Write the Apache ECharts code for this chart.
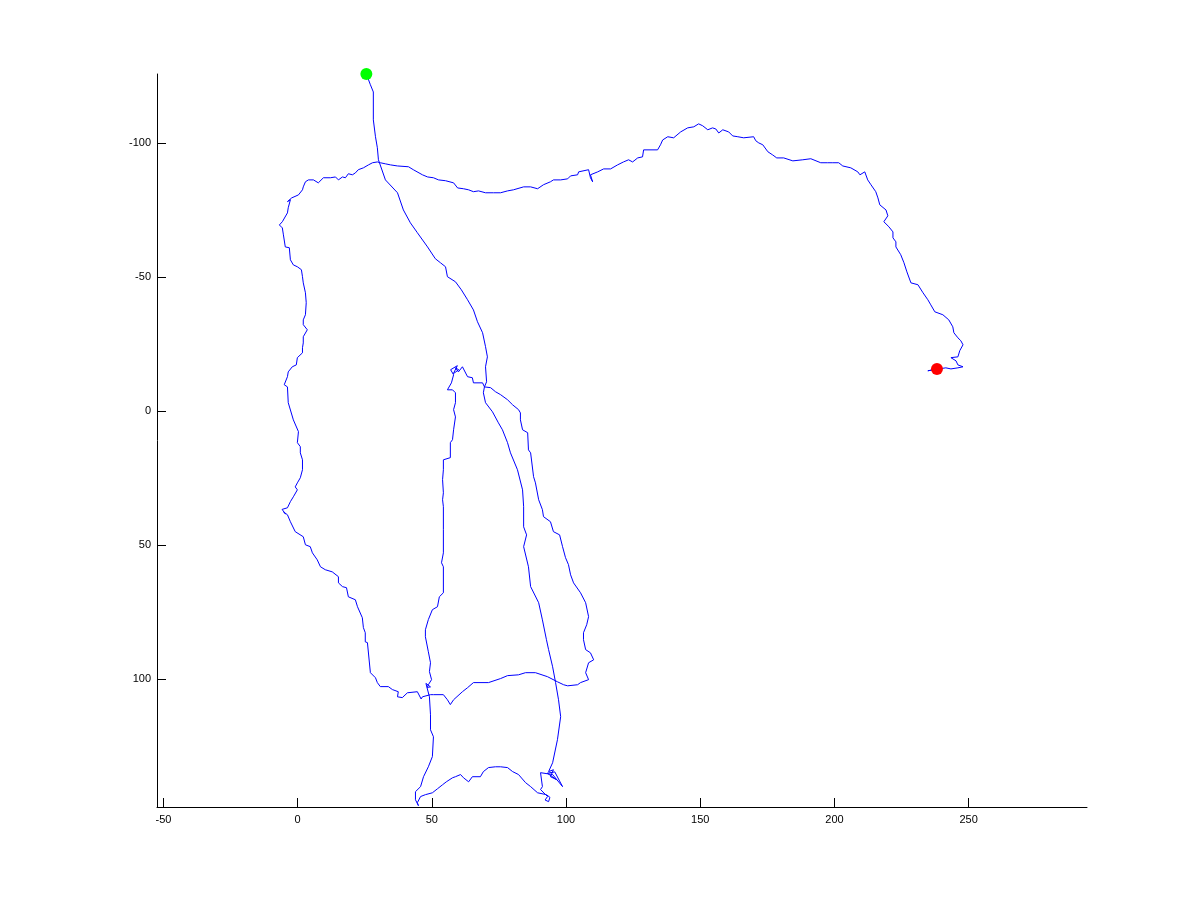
<!DOCTYPE html>
<html><head><meta charset="utf-8">
<script src="https://cdn.jsdelivr.net/npm/echarts@6/dist/echarts.min.js"></script>
<style>html,body{margin:0;padding:0;background:#fff}#c{width:1200px;height:914px}</style>
</head><body><div id="c"></div>
<script>
const xTicks = [-50, 0, 50, 100, 150, 200, 250];
const yTicks = [-100, -50, 0, 50, 100];

const startPoint = [25.6, -125.8];
const endPoint = [238.2, -15.8];

const descent = [
  [25.6,-125.8],[27.1,-121.8],[28.2,-119.1],[28.2,-108.7],[29.0,-102.4],[29.7,-98.3],[30.1,-93.8],
  [32.7,-86.3],[37.2,-81.5],[39.4,-75.1],[42.0,-70.3],[44.6,-66.6],[48.4,-61.3],[51.3,-56.9],
  [53.2,-55.4],[55.1,-53.9],[55.8,-50.2],[58.8,-48.3],[61.0,-45.3],[63.3,-41.6],[65.5,-37.8],
  [67.0,-33.4],[68.9,-29.3],[70.0,-24.1],[70.7,-20.3],[70.0,-16.6],[70.4,-11.0],[69.6,-9.1],
  [69.2,-6.9],[70.0,-3.2],[72.6,0.2],[74.8,4.3],[76.3,6.9],[78.2,11.7],[79.3,15.5],[81.9,21.8],
  [83.8,29.3],[84.2,35.6],[84.2,43.1],[85.3,46.1],[84.2,50.5],[86.0,58.0],[86.8,65.4],[89.8,71.4],
  [91.2,77.8],[92.7,85.2],[93.5,88.9],[95.0,95.3],[96.1,101.2],[97.2,107.6],[98.0,113.9],
  [96.8,122.5],[95.0,131.1],[93.5,134.4]
];

const lowerLoop = [
  [95.3,133.7],[94.2,136.3],[96.5,137.4],[93.0,135.0],[95.8,134.5],[98.7,140.0],[95.0,135.5],
  [90.5,134.8],[91.2,140.0],[90.5,141.1],[93.1,143.7],[92.2,145.0],[93.5,145.6],[94.0,144.0],
  [92.7,143.0],[89.4,142.3],[86.8,140.0],[84.9,138.5],[82.3,135.5],[80.1,134.4],[78.2,132.9],
  [75.6,132.6],[73.7,132.6],[71.1,132.9],[69.2,134.4],[68.1,136.3],[65.1,136.3],[63.7,138.2],
  [61.8,136.7],[60.7,135.5],[58.8,136.3],[57.7,136.7],[55.4,138.2],[54.0,139.3],[52.1,140.8],
  [50.2,142.3],[47.6,143.0],[45.8,143.7],[44.6,146.0],[45.0,147.1],[43.9,144.9],[43.9,141.9],
  [45.8,140.0],[46.9,136.3],[48.7,132.6],[50.2,128.8],[50.6,121.4],[49.5,118.8],[49.5,113.2],
  [49.1,106.5],[47.8,101.5],[49.5,102.8],[48.3,103.0],[48.7,102.0],[49.9,100.1],[49.1,97.1],
  [49.5,93.8],[48.7,89.7],[47.6,84.1],[47.6,81.5]
];

const innerRise = [
  [48.7,77.7],[50.2,74.0],[52.1,72.9],[52.8,69.2],[54.3,67.7],[54.3,58.0],[53.6,56.5],[54.3,52.8],
  [54.3,44.2],[54.3,35.6],[54.0,33.0],[54.3,30.4],[54.0,25.5],[54.3,21.8],[54.3,18.1],[56.9,17.3],
  [56.9,11.7],[57.7,10.6],[58.1,6.9],[58.8,2.1],[58.1,-0.6],[58.8,-3.2],[58.8,-6.9],[57.7,-8.0],
  [55.8,-8.0],[57.3,-10.6],[58.1,-13.6],[57.0,-15.5],[59.5,-17.0],[58.0,-14.0],[60.0,-15.5],
  [58.8,-16.2],[59.9,-14.7],[61.4,-16.6],[63.3,-12.9],[65.1,-12.5],[65.5,-10.6],[68.9,-10.6],
  [69.6,-9.1],[71.9,-8.8],[73.7,-7.3],[75.6,-6.2],[78.2,-4.3],[80.1,-2.4],[82.3,-0.6],[83.0,0.6]
];

const rightLoop = [
  [83.0,3.2],[83.8,6.9],[85.7,8.0],[86.0,14.4],[86.8,15.5],[87.9,24.4],[88.6,26.7],[89.8,33.0],
  [91.2,36.7],[91.6,39.3],[94.2,41.2],[95.3,44.9],[97.6,46.1],[98.7,50.5],[99.8,54.6],[100.9,57.2],
  [101.7,61.0],[102.8,64.0],[105.4,67.7],[107.3,71.4],[108.4,76.6],[107.7,79.6],[106.5,82.6],
  [106.5,85.2],[107.3,88.9],[109.1,90.1],[110.3,92.7],[108.4,93.8],[107.3,97.5],[108.4,100.1]
];

const bottomCross = [
  [105.4,101.2],[104.3,102.0],[100.6,102.4],[99.1,102.0],[96.8,100.9],[93.1,99.0],[88.6,97.5],
  [84.9,97.5],[82.3,98.3],[78.2,98.6],[75.6,99.7],[71.1,101.2],[65.5,101.2],[63.3,103.1],
  [61.4,104.6],[58.1,107.6],[56.9,109.4],[55.8,107.6],[54.3,105.7],[50.6,105.7],[49.5,105.7],
  [46.5,106.5],[45.8,106.0],[47.0,107.0],[46.0,107.3],[44.6,104.6],[40.9,105.0],[39.0,106.8],
  [37.2,106.5],[37.5,104.6],[35.3,103.8],[33.8,102.7],[30.8,102.7],[29.7,101.2],[29.0,99.4],
  [27.1,97.5],[26.4,97.1]
];

const leftSide = [
  [26.0,86.3],[25.2,86.0],[25.2,82.6],[24.5,80.7],[24.1,77.0],[22.3,72.9],[21.5,70.3],[18.9,69.2],
  [18.2,65.8],[16.7,65.4],[15.2,64.0],[15.2,61.7],[12.9,59.9],[10.3,59.1],[8.5,58.0],[7.3,55.4],
  [5.5,52.8],[4.7,50.5],[2.9,49.8],[2.1,46.8],[-0.9,44.9],[-2.7,41.2],[-3.8,38.6],[-5.3,37.5],
  [-6.0,37.2],[-4.5,38.3],[-5.8,36.6],[-3.8,36.0],[-2.7,33.7],[-1.6,31.9],[-0.1,29.3],[-0.9,28.2],
  [-0.1,26.7],[1.0,24.8],[1.8,21.8],[1.8,18.1],[1.0,15.5],[1.0,13.2],[-0.1,11.7],[0.3,7.6],
  [-1.6,3.2],[-3.5,-3.2],[-3.8,-9.1],[-5.0,-9.9],[-3.8,-12.9],[-3.5,-14.7],[-2.0,-16.6],
  [-0.5,-17.3],[-0.1,-20.0],[1.8,-21.8],[1.8,-23.7],[2.1,-25.5],[2.1,-27.8],[3.6,-30.4],
  [2.1,-32.3],[2.1,-34.1],[2.9,-36.0],[3.2,-40.5],[2.9,-44.2],[2.1,-47.9],[1.8,-50.2],[1.4,-52.8],
  [-0.1,-53.9],[-1.6,-54.6],[-2.7,-56.5],[-3.1,-61.0],[-4.6,-61.3],[-5.3,-65.8],[-5.7,-68.4],
  [-6.8,-69.5],[-5.7,-70.7],[-3.8,-74.0],[-3.5,-75.9],[-2.7,-78.9],[-3.8,-78.2],[-2.2,-79.6],
  [-1.6,-80.0],[0.3,-80.7],[1.8,-82.6],[2.1,-83.7],[2.9,-85.6],[4.0,-86.3]
];

const topEdge = [
  [5.9,-86.3],[7.7,-85.2],[9.6,-87.1],[12.2,-87.1],[14.1,-87.4],[15.2,-86.3],[16.7,-87.4],
  [17.8,-87.1],[18.9,-88.6],[20.4,-88.2],[21.5,-88.9],[22.6,-90.1],[24.5,-90.8],[26.4,-91.9],
  [27.9,-92.7],[29.7,-93.0],[30.8,-92.7],[32.7,-92.3],[34.6,-91.9],[37.2,-91.5],[41.3,-91.2],
  [43.1,-90.1],[46.5,-88.2],[48.4,-87.4],[50.6,-87.1],[52.5,-86.3],[55.1,-86.0],[58.1,-85.2],
  [59.6,-83.3],[61.8,-83.0],[63.7,-82.6],[65.5,-81.9],[67.4,-82.2],[70.0,-81.5],[73.0,-81.5],
  [75.6,-81.5],[78.2,-82.2],[80.4,-82.6],[84.2,-83.7],[86.8,-83.7],[89.4,-83.0],[91.6,-84.5],
  [94.2,-85.6],[95.3,-86.3],[98.0,-86.3],[100.6,-86.7],[101.7,-87.8],[104.3,-88.2],[104.7,-89.3],
  [108.4,-90.1],[109.1,-87.1],[109.9,-85.6],[109.1,-88.2],[111.8,-89.3],[114.0,-90.4],[116.6,-90.4],
  [119.2,-91.9],[121.4,-93.0],[123.3,-93.8],[124.8,-93.0],[126.7,-94.5],[128.5,-94.9],[128.9,-97.5],
  [134.1,-97.5],[135.2,-99.4],[136.0,-101.2],[137.9,-102.4],[140.1,-102.0],[142.7,-104.2],
  [145.3,-105.7],[147.6,-106.1],[149.4,-107.2],[150.9,-106.5],[152.8,-105.0],[154.6,-105.7],
  [155.8,-105.3],[156.9,-103.8],[158.4,-105.0],[160.6,-104.2],[162.1,-102.7],[164.0,-102.4],
  [166.2,-102.0],[169.9,-102.4]
];

const eastEdge = [
  [170.7,-100.9],[171.8,-100.1],[173.3,-99.4],[175.2,-96.8],[177.0,-95.6],[178.5,-94.5],
  [181.1,-94.5],[184.5,-93.4],[188.2,-93.8],[191.2,-94.2],[194.9,-92.7],[197.5,-92.7],[199.4,-92.7],
  [201.6,-92.7],[203.1,-91.5],[206.1,-90.8],[208.7,-89.3],[209.5,-88.2],[211.3,-89.3],[212.4,-86.3],
  [213.6,-84.5],[215.4,-81.9],[216.2,-79.6],[216.9,-77.0],[219.2,-75.1],[219.9,-72.9],[218.4,-70.7],
  [220.3,-68.8],[221.8,-66.9],[221.8,-64.7],[222.9,-63.2],[222.9,-61.3],[224.7,-58.4],[225.9,-55.4],
  [227.0,-52.0],[228.5,-47.9],[231.1,-47.2],[233.0,-44.2],[234.8,-41.6],[235.9,-39.7],[237.4,-37.1],
  [240.4,-36.0],[242.6,-34.1],[244.1,-31.5],[244.5,-29.3],[246.0,-27.4],[247.1,-26.3],[247.9,-24.8],
  [246.7,-22.6],[246.0,-20.3],[243.4,-20.0],[245.3,-18.8],[246.0,-17.3],[247.9,-16.6],[246.0,-16.2],
  [243.4,-15.8],[241.5,-16.2],[238.9,-15.8],[234.8,-15.1],[238.2,-15.8]
];

const path = [].concat(descent, lowerLoop, innerRise, rightLoop, bottomCross, leftSide, topEdge, eastEdge);

const font = 'Liberation Sans, Arial, Helvetica, sans-serif';
const chart = echarts.init(document.getElementById('c'), null, {renderer: 'canvas'});
chart.setOption({
  animation: false,
  backgroundColor: '#ffffff',
  grid: {left: 157, right: 113, top: 74, bottom: 107, containLabel: false},
  xAxis: {
    type: 'value', min: -52.4, max: 294.1,
    axisLine: {show: true, onZero: false, lineStyle: {color: '#000', width: 1}},
    axisTick: {show: true, inside: true, length: 9, customValues: xTicks, lineStyle: {color: '#000', width: 1}},
    axisLabel: {customValues: xTicks, margin: 7, color: '#000', fontSize: 11, fontFamily: font},
    splitLine: {show: false}
  },
  yAxis: {
    type: 'value', inverse: true, min: -125.8, max: 147.6,
    axisLine: {show: true, onZero: false, lineStyle: {color: '#000', width: 1}},
    axisTick: {show: true, inside: true, length: 9, customValues: yTicks, lineStyle: {color: '#000', width: 1}},
    axisLabel: {customValues: yTicks, margin: 6, color: '#000', fontSize: 11, fontFamily: font},
    splitLine: {show: false}
  },
  series: [
    {type: 'line', data: path, symbol: 'none', showSymbol: false, clip: false, z: 2,
     lineStyle: {color: '#0000ff', width: 1}, silent: true},
    {type: 'scatter', data: [startPoint], symbolSize: 12, z: 10, itemStyle: {color: '#00ff00', opacity: 1}, silent: true},
    {type: 'scatter', data: [endPoint], symbolSize: 12, z: 10, itemStyle: {color: '#ff0000', opacity: 1}, silent: true}
  ]
});
</script>
</body></html>
